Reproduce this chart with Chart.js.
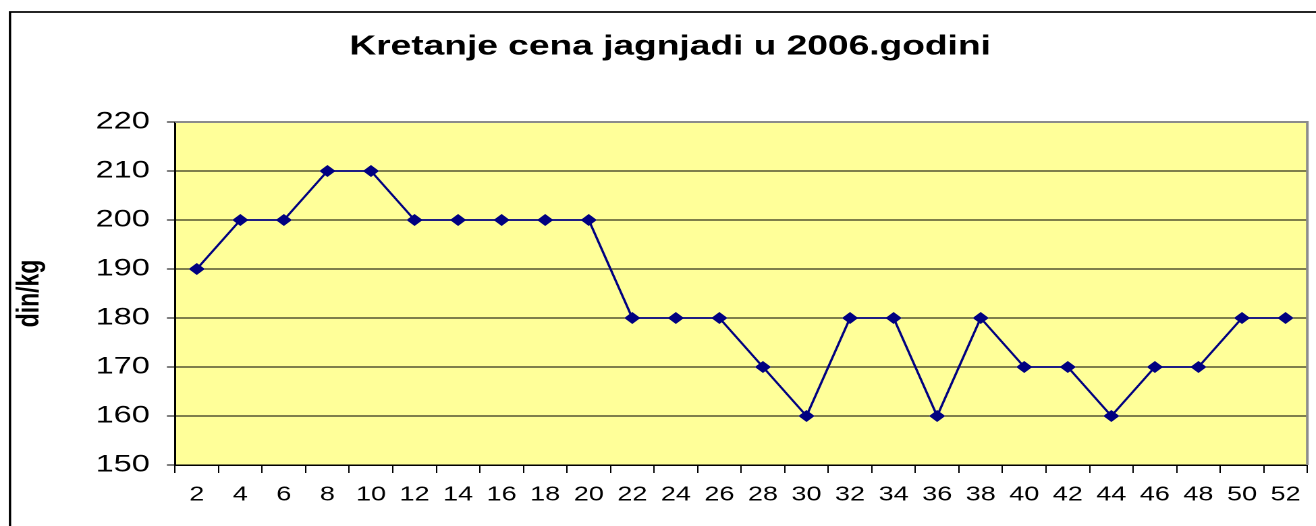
<!DOCTYPE html>
<html lang="sr">
<head>
<meta charset="utf-8">
<title>Kretanje cena jagnjadi</title>
<script src="https://cdn.jsdelivr.net/npm/chart.js@4/dist/chart.umd.min.js"></script>
<style>
  html, body { margin: 0; padding: 0; background: #fff; overflow: hidden; }
  /* original slika je razvucena po sirini, pa i ovde crtamo uze i razvlacimo */
  #wrap { position: relative; width: 993px; height: 526px; transform: scaleX(1.3497); transform-origin: 0 0; }
</style>
</head>
<body>
<div id="wrap"><canvas id="mycanvas"></canvas></div>
<script>
// nedelje (x osa) i cene u din/kg
const nedelje = ['2','4','6','8','10','12','14','16','18','20','22','24','26','28','30','32','34','36','38','40','42','44','46','48','50','52'];
const cene = [190,200,200,210,210,200,200,200,200,200,180,180,180,170,160,180,180,160,180,170,170,160,170,170,180,180];
const naslov = 'Kretanje cena jagnjadi u 2006.godini';
const yNaslov = 'din/kg';
const yMin = 150, yMax = 220, yKorak = 10;

// pozadina, okvir oblasti crtanja i okvir cele slike
const okvir = {
  id: 'okvir',
  beforeDraw(chart) {
    const c = chart.ctx, a = chart.chartArea;
    c.save();
    c.fillStyle = '#fff';
    c.fillRect(0, 0, chart.width, chart.height);
    c.fillStyle = '#FFFF99';
    c.fillRect(a.left, a.top, a.right - a.left, a.bottom - a.top);
    c.restore();
  },
  beforeDatasetsDraw(chart) {
    const c = chart.ctx, a = chart.chartArea;
    c.save();
    c.strokeStyle = '#8c8c8c';
    c.lineWidth = 2;
    c.beginPath();
    c.moveTo(a.left, a.top);
    c.lineTo(a.right, a.top);
    c.lineTo(a.right, a.bottom);
    c.stroke();
    c.restore();
  },
  afterDraw(chart) {
    const c = chart.ctx;
    c.save();
    c.strokeStyle = '#000';
    c.lineWidth = 1.7;
    c.strokeRect(7.4, 12, 1400, 600);
    c.restore();
  }
};

new Chart(document.getElementById('mycanvas'), {
  type: 'line',
  data: {
    labels: nedelje,
    datasets: [{
      data: cene,
      borderColor: '#000080',
      backgroundColor: '#000080',
      borderWidth: 1.8,
      pointStyle: 'rectRot',
      pointRadius: 6,
      pointBorderWidth: 0,
      fill: false,
      tension: 0
    }]
  },
  options: {
    responsive: true,
    maintainAspectRatio: false,
    animation: false,
    devicePixelRatio: 2,
    layout: { padding: { left: 24.4, right: 24.4, top: 0, bottom: 0 } },
    plugins: {
      legend: { display: false },
      tooltip: { enabled: false },
      title: {
        display: true,
        text: naslov,
        color: '#000',
        font: { family: 'Liberation Sans, Arial', size: 27.5, weight: 'bold' },
        padding: { top: 30.5, bottom: 58.5 }
      }
    },
    scales: {
      x: {
        offset: true,
        grid: { offset: true, drawOnChartArea: false, color: '#000', tickLength: 8 },
        border: { color: '#000', width: 1.5 },
        ticks: {
          color: '#000',
          padding: 10,
          maxRotation: 0,
          autoSkip: false,
          font: { family: 'Liberation Sans, Arial', size: 20 }
        },
        afterFit(s) { s.height = 61; }
      },
      y: {
        min: yMin,
        max: yMax,
        grid: { color: '#000', tickLength: 6 },
        border: { color: '#000', width: 1.5 },
        ticks: {
          stepSize: yKorak,
          color: '#000',
          padding: 12.7,
          font: { family: 'Liberation Sans, Arial', size: 24 }
        },
        title: {
          display: true,
          text: yNaslov,
          color: '#000',
          font: { family: 'Liberation Sans, Arial', size: 23, weight: 'bold' },
          padding: { top: -16.2, bottom: 0 }
        },
        afterFit(s) { s.width = 105.26; }
      }
    }
  },
  plugins: [okvir]
});
</script>
</body>
</html>
